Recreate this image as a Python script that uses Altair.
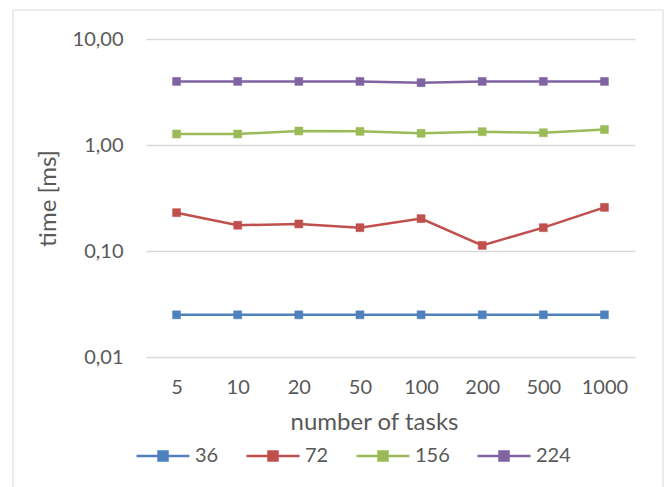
import altair as alt
import pandas as pd

# Number of tasks (x categories)
tasks = ["5", "10", "20", "50", "100", "200", "500", "1000"]

# Measured time in ms per series
series_names = ["36", "72", "156", "224"]
t36 = [0.025, 0.025, 0.025, 0.025, 0.025, 0.025, 0.025, 0.025]
t72 = [0.230, 0.175, 0.180, 0.166, 0.202, 0.113, 0.166, 0.258]
t156 = [1.27, 1.27, 1.355, 1.345, 1.29, 1.335, 1.305, 1.40]
t224 = [3.98, 3.98, 3.98, 3.98, 3.87, 3.98, 3.98, 3.98]

colors = ["#4F81BD", "#C0504D", "#9BBB59", "#8064A2"]
y_ticks = [0.01, 0.1, 1, 10]

rows = []
for name, vals in zip(series_names, [t36, t72, t156, t224]):
    for t, v in zip(tasks, vals):
        rows.append({"tasks": t, "time": v, "series": name})
df = pd.DataFrame(rows)

FONT = "Lato"
TXT = "#595959"
GRID = "#D9D9D9"

W, H = 489, 318
PAD_L, PAD_T = 146, 39

x_enc = alt.X(
    "tasks:N",
    sort=tasks,
    scale=alt.Scale(type="point", padding=0.5),
    axis=alt.Axis(
        title="number of tasks",
        labelAngle=0,
        ticks=False,
        domain=False,
        grid=False,
        labelFont=FONT,
        labelFontSize=20,
        labelColor=TXT,
        labelPadding=20,
        titleFont=FONT,
        titleFontSize=24,
        titleFontWeight="normal",
        titleColor=TXT,
        titlePadding=13,
        titleX=228,
        titleAlign="center",
    ),
)

y_enc = alt.Y(
    "time:Q",
    scale=alt.Scale(type="log", domain=[0.01, 10], nice=False),
    axis=alt.Axis(
        title="time [ms]",
        values=y_ticks,
        labelExpr="replace(format(datum.value, '.2f'), '.', ',')",
        ticks=False,
        domain=False,
        grid=True,
        gridColor=GRID,
        gridWidth=1.5,
        labelFont=FONT,
        labelFontSize=20,
        labelColor=TXT,
        labelPadding=23,
        titleFont=FONT,
        titleFontSize=24,
        titleFontWeight="normal",
        titleColor=TXT,
        titlePadding=12,
    ),
)

color_scale = alt.Scale(domain=series_names, range=colors)

legend = alt.Legend(
    title=None,
    orient="none",
    direction="horizontal",
    legendX=-11,
    legendY=389,
    symbolType="M-1,0H1M-0.17,-0.17H0.17V0.17H-0.17Z",
    symbolSize=2809,
    symbolStrokeWidth=2.5,
    labelFont=FONT,
    labelFontSize=20,
    labelColor=TXT,
    labelOffset=4,
    columnPadding=22,
    padding=0,
)

stroke_enc = alt.Stroke("series:N", scale=color_scale, sort=series_names, legend=legend)
fill_enc = alt.Fill("series:N", scale=color_scale, sort=series_names, legend=legend)

base = alt.Chart(df).encode(
    x=x_enc,
    y=y_enc,
    order=alt.Order("series:N"),
)

lines = base.mark_line(strokeWidth=2.5).encode(stroke=stroke_enc, detail="series:N")
points = base.mark_point(shape="square", size=64, opacity=1, strokeWidth=0.5).encode(
    fill=fill_enc, stroke=stroke_enc
)

# light chart-area border
frame = alt.Chart(alt.Data(values=[{}])).mark_rect(
    filled=False, stroke=GRID, strokeWidth=1
).encode(
    x=alt.value(13 - PAD_L),
    x2=alt.value(663 - PAD_L),
    y=alt.value(10 - PAD_T),
    y2=alt.value(H + 200),
)

chart = (
    alt.layer(frame, lines, points)
    .properties(
        width=W,
        height=H,
        autosize=alt.AutoSizeParams(type="none"),
        padding={"left": PAD_L, "top": PAD_T, "right": 667 - PAD_L - W, "bottom": 487 - PAD_T - H},
        background="white",
    )
    .configure_view(stroke=None)
)

chart.save("out.html", embed_options={"renderer": "svg", "actions": False})
